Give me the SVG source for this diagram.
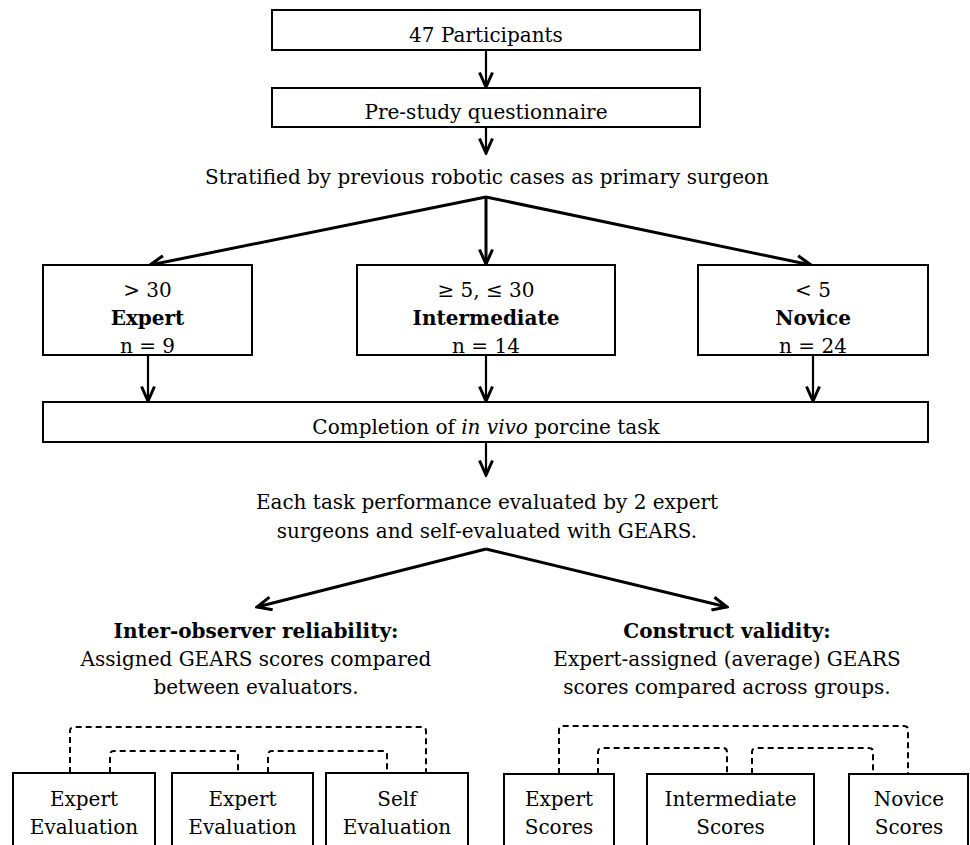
<svg xmlns="http://www.w3.org/2000/svg" width="970" height="845" viewBox="0 0 970 845">
<defs>
<style>
text{font-family:"DejaVu Serif","Liberation Serif",serif;font-size:20px;fill:#000;text-anchor:middle}
.b{font-weight:bold}
.box{fill:#fff;stroke:#000;stroke-width:2}
.arr{fill:none;stroke:#000;stroke-width:2.2;marker-end:url(#ah)}
.thick{fill:none;stroke:#000;stroke-width:3;marker-end:url(#ah)}
.dash{fill:none;stroke:#000;stroke-width:2;stroke-dasharray:6 4}
</style>
<marker id="ah" viewBox="0 0 18 16" refX="16" refY="8" markerWidth="18" markerHeight="16" markerUnits="userSpaceOnUse" orient="auto">
<path d="M1.5,1.5 L16,8 L1.5,14.5" fill="none" stroke="#000" stroke-width="3" stroke-linejoin="miter"/>
</marker>
</defs>
<rect width="970" height="845" fill="#fff"/>
<g id="connectors">
<path class="arr" d="M486,50 V87"/>
<path class="arr" d="M486,127 V153"/>
<path class="thick" d="M486,197 L150,265"/>
<path class="thick" d="M486,197 V264"/>
<path class="thick" d="M486,197 L811,265"/>
<path class="arr" d="M148,355 V401"/>
<path class="arr" d="M486,355 V401"/>
<path class="arr" d="M813,355 V401"/>
<path class="arr" d="M486,442 V475"/>
<path class="thick" d="M486,549 L257,607"/>
<path class="thick" d="M486,549 L727,607"/>
<path class="dash" d="M70,773 V731 Q70,727 74,727 H422 Q426,727 426,731 V773"/>
<path class="dash" d="M110,773 V755 Q110,751 114,751 H234 Q238,751 238,755 V773"/>
<path class="dash" d="M268,773 V755 Q268,751 272,751 H383 Q387,751 387,755 V773"/>
<path class="dash" d="M559,774 V730 Q559,726 563,726 H904 Q908,726 908,730 V774"/>
<path class="dash" d="M598,774 V752 Q598,748 602,748 H723 Q727,748 727,752 V774"/>
<path class="dash" d="M752,774 V752 Q752,748 756,748 H869 Q873,748 873,752 V774"/>
</g>
<g id="participants">
<rect class="box" x="272" y="10" width="428" height="40"/>
<text x="486" y="42">47 Participants</text>
</g>
<g id="questionnaire">
<rect class="box" x="272" y="88" width="428" height="39"/>
<text x="486" y="119">Pre-study questionnaire</text>
</g>
<g id="stratified">
<text x="487" y="184">Stratified by previous robotic cases as primary surgeon</text>
</g>
<g id="expert">
<rect class="box" x="43" y="265" width="209" height="90"/>
<text x="147.5" y="297">&gt; 30</text>
<text class="b" x="147.5" y="325">Expert</text>
<text x="147.5" y="353">n = 9</text>
</g>
<g id="intermediate">
<rect class="box" x="357" y="265" width="258" height="90"/>
<text x="486" y="297">≥ 5, ≤ 30</text>
<text class="b" x="486" y="325">Intermediate</text>
<text x="486" y="353">n = 14</text>
</g>
<g id="novice">
<rect class="box" x="698" y="265" width="230" height="90"/>
<text x="813" y="297">&lt; 5</text>
<text class="b" x="813" y="325">Novice</text>
<text x="813" y="353">n = 24</text>
</g>
<g id="completion">
<rect class="box" x="43" y="402" width="885" height="40"/>
<text x="486" y="434">Completion of <tspan font-style="italic">in vivo</tspan> porcine task</text>
</g>
<g id="evaluated">
<text x="487" y="509">Each task performance evaluated by 2 expert</text>
<text x="487" y="538">surgeons and self-evaluated with GEARS.</text>
</g>
<g id="reliability">
<text class="b" x="256" y="638">Inter-observer reliability:</text>
<text x="256" y="666">Assigned GEARS scores compared</text>
<text x="256" y="694">between evaluators.</text>
</g>
<g id="validity">
<text class="b" x="727" y="638">Construct validity:</text>
<text x="727" y="666">Expert-assigned (average) GEARS</text>
<text x="727" y="694">scores compared across groups.</text>
</g>
<g id="expert-eval-1">
<rect class="box" x="13" y="773" width="142" height="80"/>
<text x="84" y="806">Expert</text>
<text x="84" y="834">Evaluation</text>
</g>
<g id="expert-eval-2">
<rect class="box" x="172" y="773" width="141" height="80"/>
<text x="242.5" y="806">Expert</text>
<text x="242.5" y="834">Evaluation</text>
</g>
<g id="self-eval">
<rect class="box" x="326" y="773" width="142" height="80"/>
<text x="397" y="806">Self</text>
<text x="397" y="834">Evaluation</text>
</g>
<g id="expert-scores">
<rect class="box" x="504" y="774" width="110" height="80"/>
<text x="559" y="806">Expert</text>
<text x="559" y="834">Scores</text>
</g>
<g id="intermediate-scores">
<rect class="box" x="647" y="774" width="167" height="80"/>
<text x="730.5" y="806">Intermediate</text>
<text x="730.5" y="834">Scores</text>
</g>
<g id="novice-scores">
<rect class="box" x="849" y="774" width="119" height="80"/>
<text x="909" y="806">Novice</text>
<text x="909" y="834">Scores</text>
</g>
</svg>
